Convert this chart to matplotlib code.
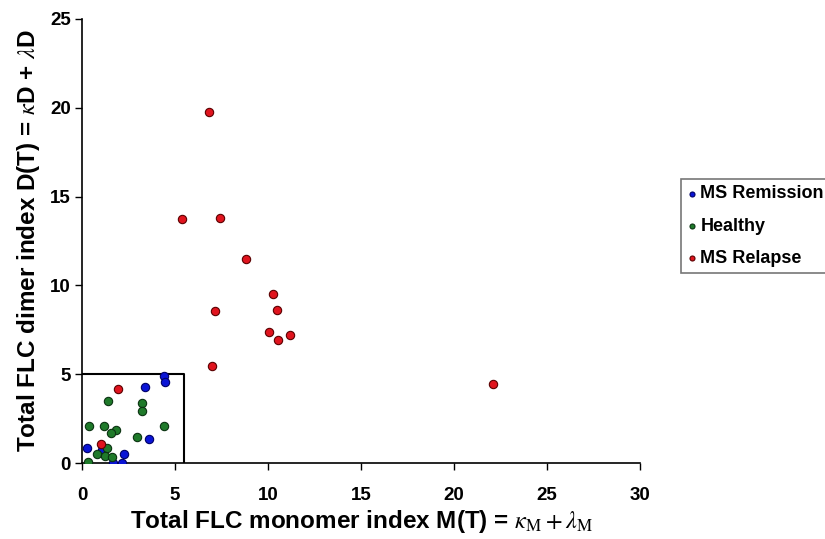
import matplotlib.pyplot as plt
import matplotlib as mpl

mpl.rcParams['font.family'] = ['Liberation Sans', 'DejaVu Sans']
mpl.rcParams['mathtext.fontset'] = 'stix'

# MS Remission
rem_x = [4.38, 4.47, 3.39, 3.61, 0.29, 1.06, 2.26, 1.69, 2.17]
rem_y = [4.90, 4.58, 4.26, 1.35, 0.84, 0.73, 0.49, 0.02, 0.02]
# Healthy
hea_x = [1.42, 3.25, 3.25, 0.36, 1.20, 4.38, 1.83, 1.58, 2.96, 1.33, 0.79, 1.24, 1.60, 0.32]
hea_y = [3.51, 3.40, 2.93, 2.07, 2.08, 2.08, 1.86, 1.67, 1.45, 0.83, 0.51, 0.39, 0.32, 0.06]
# MS Relapse
rel_x = [6.84, 5.39, 7.43, 8.83, 10.29, 10.50, 7.16, 10.07, 10.55, 11.20, 7.00, 22.08, 1.94, 1.04]
rel_y = [19.76, 13.74, 13.80, 11.49, 9.52, 8.60, 8.56, 7.38, 6.93, 7.21, 5.46, 4.45, 4.17, 1.05]

fig = plt.figure(figsize=(8.25, 5.39), dpi=100)
ax = fig.add_axes([0.0994, 0.141, 0.6766, 0.824])

# cut-off box
ax.plot([0, 5.5, 5.5], [5, 5, 0], color='black', lw=1.5, zorder=1)

ax.scatter(rem_x, rem_y, s=36, c='#0a14d6', edgecolors='#000066', linewidths=0.8, label='MS Remission', zorder=3)
ax.scatter(hea_x, hea_y, s=36, c='#1f7a2a', edgecolors='#0b3312', linewidths=0.8, label='Healthy', zorder=3)
ax.scatter(rel_x, rel_y, s=36, c='#e0141e', edgecolors='#5a0000', linewidths=0.8, label='MS Relapse', zorder=3)

ax.set_xlim(0, 30)
ax.set_ylim(0, 25)
ax.set_xticks(range(0, 31, 5))
ax.set_yticks(range(0, 26, 5))
ax.spines['top'].set_visible(False)
ax.spines['right'].set_visible(False)
ax.spines['left'].set_linewidth(1.2)
ax.spines['bottom'].set_linewidth(1.2)
ax.tick_params(labelsize=13.5, width=1, length=5)
ax.tick_params(axis='x', pad=12)
ax.tick_params(axis='y', pad=3)
for lab in ax.get_xticklabels() + ax.get_yticklabels():
    lab.set_fontweight('bold')

ax.set_xlabel(r'Total FLC monomer index M(T) = $\kappa_{\mathrm{M}} + \lambda_{\mathrm{M}}$',
              fontsize=17.5, fontweight='bold', labelpad=3)
ax.set_ylabel(r'Total FLC dimer index D(T) = $\kappa$D + $\lambda$D',
              fontsize=17.5, fontweight='bold', labelpad=6)

leg = fig.legend(loc='upper left', bbox_to_anchor=(0.826, 0.668), frameon=True,
                 fancybox=False, edgecolor='#555555', markerscale=0.6,
                 handletextpad=0.2, handlelength=0.5, borderpad=0.35,
                 borderaxespad=0, labelspacing=0.85,
                 prop={'size': 13, 'weight': 'bold'})
leg.get_frame().set_linewidth(1.2)

fig.savefig('out.png', dpi=100)
